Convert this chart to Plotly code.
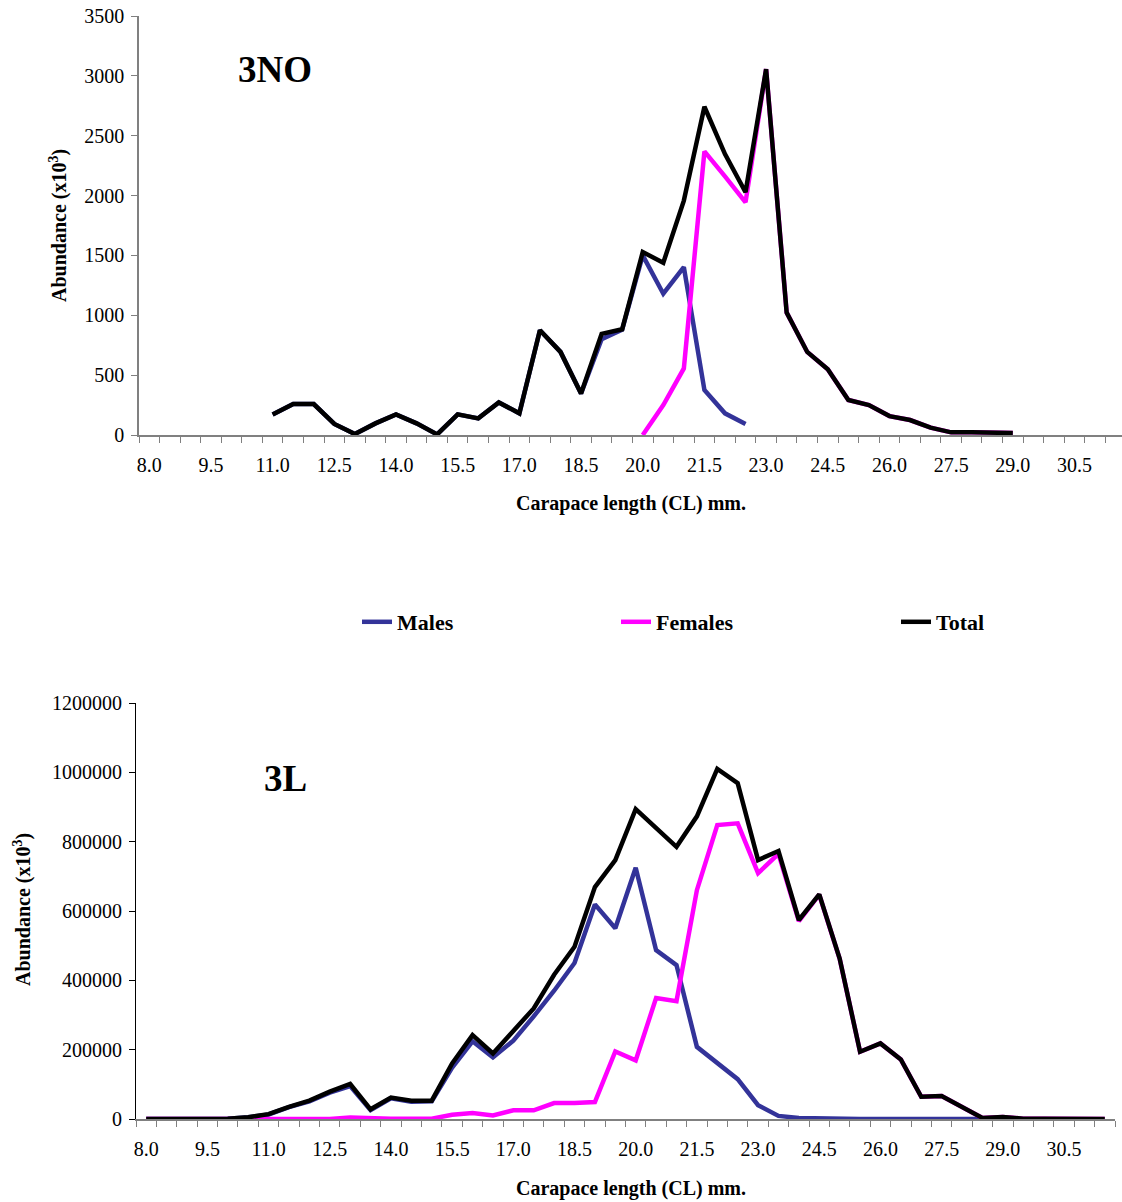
import plotly.graph_objects as go

# Carapace length categories (mm)
lengths = [8.0, 8.5, 9.0, 9.5, 10.0, 10.5, 11.0, 11.5, 12.0, 12.5, 13.0, 13.5,
           14.0, 14.5, 15.0, 15.5, 16.0, 16.5, 17.0, 17.5, 18.0, 18.5, 19.0, 19.5,
           20.0, 20.5, 21.0, 21.5, 22.0, 22.5, 23.0, 23.5, 24.0, 24.5, 25.0, 25.5,
           26.0, 26.5, 27.0, 27.5, 28.0, 28.5, 29.0, 29.5, 30.0, 30.5, 31.0, 31.5]

tick_vals = [8.0, 9.5, 11.0, 12.5, 14.0, 15.5, 17.0, 18.5, 20.0, 21.5, 23.0,
             24.5, 26.0, 27.5, 29.0, 30.5]
tick_text = ["8.0", "9.5", "11.0", "12.5", "14.0", "15.5", "17.0", "18.5",
             "20.0", "21.5", "23.0", "24.5", "26.0", "27.5", "29.0", "30.5"]

N = None
# ---- 3NO (abundance x10^3) ----
males_3no = [N, N, N, N, N, N, 172, 258, 258, 92, 8, 97,
             172, 97, 5, 172, 139, 272, 181, 875, 694, 347, 800, 880,
             1500, 1180, 1403, 375, 181, 92, N, N, N, N, N, N,
             N, N, N, N, N, N, N, N, N, N, N, N]
females_3no = [N, N, N, N, N, N, N, N, N, N, N, N,
               N, N, N, N, N, N, N, N, N, N, N, N,
               0, 250, 556, 2369, 2160, 1944, 3056, 1022, 694, 550, 292, 250,
               158, 125, 61, 22, 22, 15, 17, N, N, N, N, N]
total_3no = [N, N, N, N, N, N, 172, 258, 258, 92, 8, 97,
             172, 97, 5, 172, 139, 272, 181, 875, 694, 347, 845, 883,
             1528, 1439, 1958, 2742, 2347, 2028, 3056, 1022, 694, 550, 292, 250,
             158, 125, 61, 22, 22, 15, 17, N, N, N, N, N]

# ---- 3L (abundance x10^3) ----
males_3l = [0, 0, 0, 0, 1000, 5000, 13000, 34000, 51000, 76000, 95000, 26000,
            60000, 50000, 51000, 148000, 224000, 178000, 226000, 296000, 370000, 450000, 619000, 550000,
            725000, 487000, 444000, 208000, 160000, 115000, 40000, 9000, 3000, 1000, 500, 0,
            0, 0, 0, 0, 0, 0, N, N, N, N, N, N]
females_3l = [0, 0, 0, 0, 0, 0, 0, 0, 0, 0, 4000, 1500,
              1000, 1000, 1000, 12000, 17000, 10000, 25000, 25000, 46000, 46000, 49000, 195000,
              169000, 349000, 340000, 660000, 848000, 853000, 709000, 765000, 571000, 647000, 462000, 194000,
              218000, 172000, 64000, 66000, 34000, 3000, 6000, 1000, 500, 0, 0, 0]
total_3l = [0, 0, 0, 0, 1000, 5000, 14000, 35000, 53000, 79000, 101000, 28000,
            62000, 53000, 53000, 160000, 242000, 189000, 252000, 319000, 416000, 497000, 669000, 747000,
            894000, 840000, 785000, 873000, 1010000, 969000, 747000, 773000, 574000, 648000, 463000, 194000,
            218000, 172000, 64000, 66000, 34000, 3000, 6000, 1000, 500, 0, 0, 0]

series_names = ["Males", "Females", "Total"]
series_colors = ["#333399", "#FF00FF", "#000000"]

W, H = 1122, 1202
FONT = "Liberation Serif"
LW = 4.5

fig = go.Figure()

legends = ["legend", "legend2", "legend3"]
for name, color, data, lg in zip(series_names, series_colors,
                                 [males_3no, females_3no, total_3no], legends):
    fig.add_trace(go.Scatter(x=lengths, y=data, mode="lines", name=name,
                             line=dict(color=color, width=LW),
                             xaxis="x", yaxis="y", legend=lg, showlegend=True))
for name, color, data in zip(series_names, series_colors,
                             [males_3l, females_3l, total_3l]):
    fig.add_trace(go.Scatter(x=lengths, y=data, mode="lines", name=name,
                             line=dict(color=color, width=LW),
                             xaxis="x2", yaxis="y2", showlegend=False))

def px_x(p):
    return p / W

def px_y(p):
    return 1 - p / H

axis_common = dict(showgrid=False, zeroline=False, showline=True,
                   tickfont=dict(family=FONT, size=20, color="black"))

xcommon = dict(axis_common, tickmode="array", tickvals=tick_vals, ticktext=tick_text,
               ticks="", ticklabelstandoff=11,
               minor=dict(ticks="outside", ticklen=6, tickcolor="#808080",
                          tickwidth=1, tick0=7.75, dtick=0.5, showgrid=False),
               linecolor="#808080", linewidth=1.5)

fig.update_layout(
    width=W, height=H,
    margin=dict(l=0, r=0, t=0, b=0, autoexpand=False),
    paper_bgcolor="white", plot_bgcolor="white",
    font=dict(family=FONT, color="black"),
    xaxis=dict(xcommon, domain=[px_x(139), 1.0], range=[7.75, 31.655], anchor="y"),
    yaxis=dict(axis_common, domain=[px_y(435), px_y(16)], range=[0, 3500], dtick=500,
               ticks="outside", ticklen=6, tickcolor="#808080", linecolor="#808080",
               linewidth=1.5, tickformat="d", ticklabelstandoff=3, anchor="x"),
    xaxis2=dict(xcommon, domain=[px_x(136), px_x(1115)], range=[7.75, 31.75], anchor="y2"),
    yaxis2=dict(axis_common, domain=[px_y(1119), px_y(703)], range=[0, 1200000], dtick=200000,
                ticks="outside", ticklen=6, tickcolor="black", linecolor="black",
                linewidth=1, tickformat="d", ticklabelstandoff=3, anchor="x2"),
)

leg_font = dict(family=FONT, size=22, color="black", weight="bold")
leg_common = dict(orientation="h", yanchor="middle", y=px_y(622), xanchor="left",
                  font=leg_font, bgcolor="rgba(0,0,0,0)", borderwidth=0)
fig.update_layout(
    legend=dict(leg_common, x=px_x(357)),
    legend2=dict(leg_common, x=px_x(616)),
    legend3=dict(leg_common, x=px_x(896)),
)

title_font = dict(family=FONT, size=20, color="black", weight="bold")
anns = [
    dict(text="Carapace length (CL) mm.", x=px_x(631), y=px_y(503)),
    dict(text="Carapace length (CL) mm.", x=px_x(631), y=px_y(1188)),
    dict(text="Abundance (x10<sup>3</sup>)", x=px_x(58), y=px_y(226), textangle=-90),
    dict(text="Abundance (x10<sup>3</sup>)", x=px_x(22), y=px_y(910), textangle=-90),
]
for a in anns:
    fig.add_annotation(xref="paper", yref="paper", showarrow=False,
                       xanchor="center", yanchor="middle", font=title_font, **a)

big_font = dict(family=FONT, size=37, color="black", weight="bold")
fig.add_annotation(text="3NO", xref="paper", yref="paper", x=px_x(275), y=px_y(70),
                   showarrow=False, xanchor="center", yanchor="middle", font=big_font)
fig.add_annotation(text="3L", xref="paper", yref="paper", x=px_x(285), y=px_y(778),
                   showarrow=False, xanchor="center", yanchor="middle", font=big_font)

fig.write_html("out.html", config={"displayModeBar": False},
               post_script="document.body.style.margin='0px';document.body.style.overflow='hidden';")
